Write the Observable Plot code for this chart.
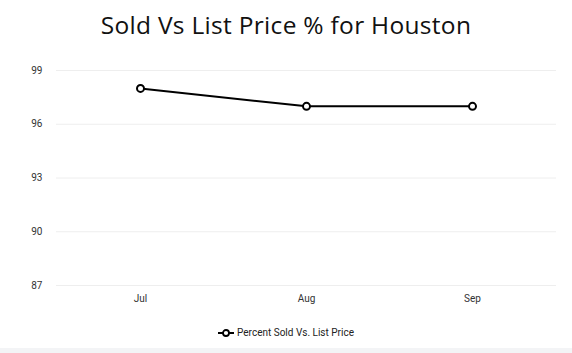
<!DOCTYPE html>
<html>
<head>
<meta charset="utf-8">
<script src="https://cdn.jsdelivr.net/npm/d3@7"></script>
<script src="https://cdn.jsdelivr.net/npm/@observablehq/plot@0.6"></script>
<style>
  html, body { margin: 0; padding: 0; background: #fff; }
  #wrap { width: 572px; height: 353px; position: relative; overflow: hidden; }
  #title { height: 50px; text-align: center; font-family: "Open Sans", sans-serif; font-size: 24.5px; color: #111; line-height: 50px; letter-spacing: 0.3px; }
  #legend { position: absolute; top: 327px; left: 0; width: 572px; text-align: center; font-family: Roboto, sans-serif; font-size: 10px; color: #222; }
  #legend svg { vertical-align: middle; margin-right: 3px; }
  #strip { position: absolute; left: 0; top: 348px; width: 572px; height: 5px; background: #f3f4f6; }
</style>
</head>
<body>
<div id="wrap">
  <div id="title">Sold Vs List Price % for Houston</div>
  <div id="chart"></div>
  <div id="legend"><svg width="16" height="10"><line x1="0" y1="5" x2="16" y2="5" stroke="#000" stroke-width="2"/><circle cx="8" cy="5" r="3" fill="#fff" stroke="#000" stroke-width="1.8"/></svg><span>Percent Sold Vs. List Price</span></div>
  <div id="strip"></div>
</div>
<script>
const months = ["Jul", "Aug", "Sep"];
const values = [98, 97, 97];
const yTicks = [87, 90, 93, 96, 99];
const seriesName = "Percent Sold Vs. List Price";

const data = months.map((m, i) => ({month: m, value: values[i], series: seriesName}));

const chart = Plot.plot({
  width: 572,
  height: 265,
  marginTop: 20,
  marginBottom: 30,
  marginLeft: 56,
  marginRight: 16,
  style: {fontFamily: "Roboto, sans-serif", fontSize: "10px", color: "#333", background: "#fff"},
  x: {type: "point", domain: months, padding: 0.5, label: null},
  y: {domain: [87, 99], ticks: yTicks, label: null},
  marks: [
    Plot.gridY(yTicks, {stroke: "#eeeeee", strokeOpacity: 1, strokeWidth: 1}),
    Plot.axisY(yTicks, {tickSize: 0, tickPadding: 14, label: null}),
    Plot.axisX({tickSize: 0, tickPadding: 9, label: null}),
    Plot.line(data, {x: "month", y: "value", stroke: "#000", strokeWidth: 2}),
    Plot.dot(data, {x: "month", y: "value", r: 3.5, fill: "#fff", stroke: "#000", strokeWidth: 2})
  ]
});
document.getElementById("chart").appendChild(chart);
</script>
</body>
</html>
